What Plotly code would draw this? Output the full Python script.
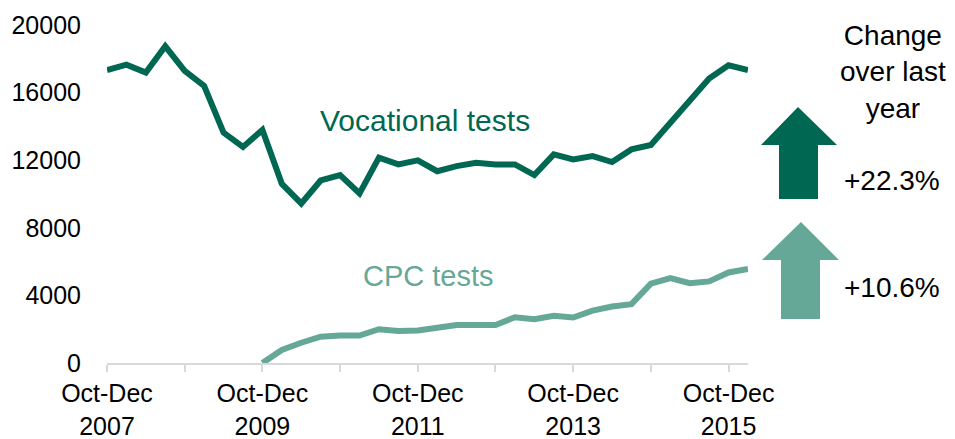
import plotly.graph_objects as go

# ---- data ----
quarters = [f"{q} {y}" for y, q in
            [(2007, "Oct-Dec")] +
            [(y, q) for y in range(2008, 2016) for q in ["Jan-Mar", "Apr-Jun", "Jul-Sep", "Oct-Dec"]] +
            [(2016, "Jan-Mar")]]
vocational = [17330, 17650, 17190, 18740, 17290, 16400, 13630, 12780, 13790, 10600,
              9440, 10800, 11120, 10030, 12150, 11750, 11990, 11350, 11650, 11850,
              11750, 11750, 11120, 12340, 12050, 12240, 11890, 12640, 12900, 14200,
              15510, 16830, 17620, 17330]
cpc = [None] * 8 + [0, 770, 1200, 1560, 1620, 1620, 2000, 1900, 1920, 2060,
                    2250, 2250, 2250, 2710, 2590, 2790, 2690, 3100, 3340, 3480,
                    4690, 5020, 4720, 4830, 5360, 5560]
y_ticks = [0, 4000, 8000, 12000, 16000, 20000]
y_labels = ["0", "4000", "8000", "12000", "16000", "20000"]
x_label_idx = [0, 8, 16, 24, 32]
x_labels = ["Oct-Dec<br>2007", "Oct-Dec<br>2009", "Oct-Dec<br>2011", "Oct-Dec<br>2013", "Oct-Dec<br>2015"]
change_vocational = "+22.3%"
change_cpc = "+10.6%"

DARK = "#006852"
LIGHT = "#66A898"
FONT = "Liberation Sans, Arial, sans-serif"

W, H = 955, 439
L, R, T, B = 107, 748, 25, 363


def px(x):
    return (x - L) / (R - L)


def py(y):
    return (B - y) / (B - T)


idx = list(range(len(quarters)))

fig = go.Figure()
fig.add_trace(go.Scatter(x=idx, y=vocational, mode="lines", line=dict(color=DARK, width=6),
                         name="Vocational tests", hovertext=quarters))
fig.add_trace(go.Scatter(x=idx, y=cpc, mode="lines", line=dict(color=LIGHT, width=6),
                         name="CPC tests", hovertext=quarters))

tickvals = list(range(0, len(quarters), 4))
ticktext = [x_labels[x_label_idx.index(v)] if v in x_label_idx else "" for v in tickvals]


def arrow(tip_x, tip_y, head_y, head_l, head_r, sh_l, sh_r, bottom, color):
    pts = [(tip_x, tip_y), (head_r, head_y), (sh_r, head_y), (sh_r, bottom),
           (sh_l, bottom), (sh_l, head_y), (head_l, head_y)]
    path = "M " + " L ".join(f"{px(a):.5f},{py(b):.5f}" for a, b in pts) + " Z"
    return dict(type="path", xref="paper", yref="paper", path=path,
                fillcolor=color, line=dict(width=0), layer="above")


shapes = [
    arrow(798, 107, 145, 761, 837, 779, 818, 199, DARK),
    arrow(801, 222, 260, 762, 839, 781, 820, 319, LIGHT),
]

annotations = [
    dict(text="Vocational tests", x=px(425), y=py(120), font=dict(size=30, color=DARK, family=FONT)),
    dict(text="CPC tests", x=px(429), y=py(276), font=dict(size=29, color=LIGHT, family=FONT)),
    dict(text="Change<br>over last<br>year", x=px(893), y=py(72), font=dict(size=28, color="black", family=FONT)),
    dict(text=change_vocational, x=px(892), y=py(180), font=dict(size=28, color="black", family=FONT)),
    dict(text=change_cpc, x=px(892), y=py(287), font=dict(size=28, color="black", family=FONT)),
]
for a in annotations:
    a.update(xref="paper", yref="paper", xanchor="center", yanchor="middle", showarrow=False)

fig.update_layout(
    width=W, height=H,
    margin=dict(l=L, r=W - R, t=T, b=H - B, pad=0),
    paper_bgcolor="white", plot_bgcolor="white",
    showlegend=False,
    font=dict(family=FONT, size=25, color="black"),
    shapes=shapes, annotations=annotations,
    xaxis=dict(range=[0, 33], tickmode="array", tickvals=tickvals, ticktext=ticktext,
               showgrid=False, zeroline=False, showline=True, linecolor="#d9d9d9", linewidth=2,
               ticks="outside", ticklen=7, tickcolor="#d9d9d9", tickwidth=2, automargin=False,
               tickfont=dict(size=25, family=FONT, color="black"), tickangle=0),
    yaxis=dict(range=[0, 20000], tickmode="array", tickvals=y_ticks, ticktext=y_labels,
               showgrid=False, zeroline=False, showline=False, automargin=False,
               ticklabelstandoff=25, tickfont=dict(size=25, family=FONT, color="black")),
)

fig.write_html("out.html", config={"displayModeBar": False},
               post_script="document.body.style.margin='0';document.body.style.overflow='hidden';")
